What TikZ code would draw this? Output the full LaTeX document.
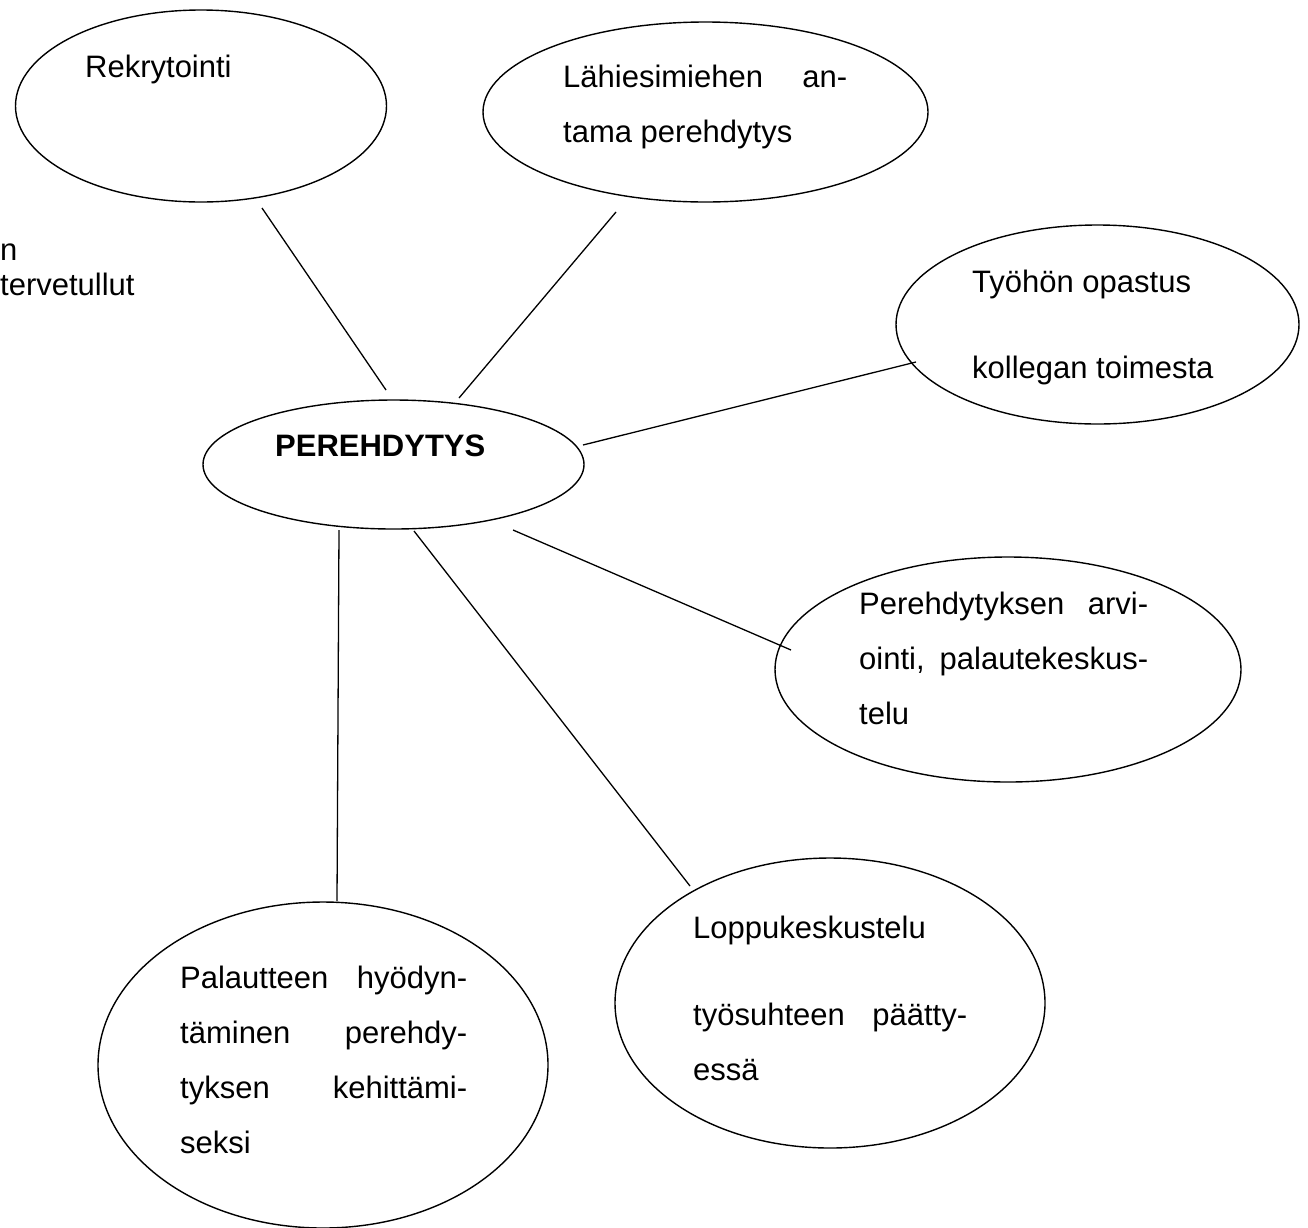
\documentclass[tikz,border=0pt]{standalone}
\usepackage{fontspec}
\setmainfont{Liberation Sans}
\usetikzlibrary{shapes.geometric}
\begin{document}
\begin{tikzpicture}[x=1pt,y=-1pt,
  bub/.style={draw, ellipse, line width=1.4pt, inner sep=0pt},
  txt/.style={anchor=base west, inner sep=0pt, font=\fontsize{31}{37}\selectfont},
  link/.style={line width=1.3pt}]
\useasboundingbox (0,0) rectangle (1308,1227);

% bubbles
\node[bub, minimum width=371pt, minimum height=192pt] (rek) at (201,106) {};
\node[bub, minimum width=445pt, minimum height=180pt] (lah) at (705.5,112) {};
\node[bub, minimum width=403pt, minimum height=199pt] (tyo) at (1097.5,324.5) {};
\node[bub, minimum width=381pt, minimum height=129pt] (per) at (393.5,464.5) {};
\node[bub, minimum width=466pt, minimum height=225pt] (arv) at (1008,669.5) {};
\node[bub, minimum width=450pt, minimum height=326pt] (pal) at (323,1065) {};
\node[bub, minimum width=430pt, minimum height=290pt] (lop) at (830,1003) {};

% texts
\node[txt] (rekT) at (85,77) {Rekrytointi};
\node[txt] (lahT1) at (563,87) {\makebox[284pt][s]{Lähiesimiehen an-}};
\node[txt] (lahT2) at (563,142) {tama perehdytys};
\node[txt] (tyoT1) at (972,292) {Työhön opastus};
\node[txt] (tyoT2) at (972,378) {kollegan toimesta};
\node[txt, font=\fontsize{31}{37}\selectfont\bfseries] (perT) at (275,456) {PEREHDYTYS};
\node[txt] (arvT1) at (859,614) {\makebox[289pt][s]{Perehdytyksen arvi-}};
\node[txt] (arvT2) at (859,669) {\makebox[289pt][s]{ointi, palautekeskus-}};
\node[txt] (arvT3) at (859,724) {telu};
\node[txt] (palT1) at (180,988) {\makebox[287pt][s]{Palautteen hyödyn-}};
\node[txt] (palT2) at (180,1043) {\makebox[287pt][s]{täminen perehdy-}};
\node[txt] (palT3) at (180,1098) {\makebox[287pt][s]{tyksen kehittämi-}};
\node[txt] (palT4) at (180,1153) {seksi};
\node[txt] (lopT1) at (693,938) {Loppukeskustelu};
\node[txt] (lopT2) at (693,1025) {\makebox[274pt][s]{työsuhteen päätty-}};
\node[txt] (lopT3) at (693,1080) {essä};
\node[txt] (sideA) at (0,260) {n};
\node[txt] (sideB) at (0,295) {tervetullut};

% connector ends
\coordinate (rekE) at (262,208);
\coordinate (perA) at (386,390);
\coordinate (lahE) at (616,212);
\coordinate (perB) at (459,398);
\coordinate (perC) at (583,445);
\coordinate (tyoE) at (916,362);
\coordinate (perD) at (513,530);
\coordinate (arvE) at (791,650);
\coordinate (perF) at (339,530);
\coordinate (palE) at (337,901);
\coordinate (perG) at (414,531);
\coordinate (lopE) at (690,886);

\draw[link] (rekE) -- (perA);
\draw[link] (lahE) -- (perB);
\draw[link] (perC) -- (tyoE);
\draw[link] (perD) -- (arvE);
\draw[link] (perF) -- (palE);
\draw[link] (perG) -- (lopE);
\end{tikzpicture}
\end{document}
